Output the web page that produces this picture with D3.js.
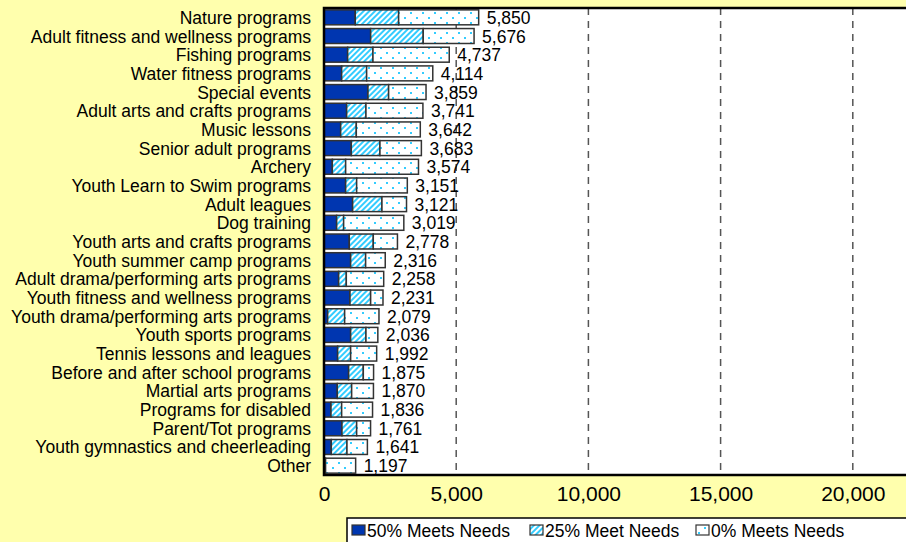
<!DOCTYPE html>
<html><head><meta charset="utf-8">
<script src="https://cdn.jsdelivr.net/npm/d3@7"></script>
<style>html,body{margin:0;padding:0;background:#ffffad;overflow:hidden}svg{display:block}</style>
</head><body>
<svg id="chart" width="906" height="542"></svg>
<script>
const categories = ["Nature programs","Adult fitness and wellness programs","Fishing programs","Water fitness programs","Special events","Adult arts and crafts programs","Music lessons","Senior adult programs","Archery","Youth Learn to Swim programs","Adult leagues","Dog training","Youth arts and crafts programs","Youth summer camp programs","Adult drama/performing arts programs","Youth fitness and wellness programs","Youth drama/performing arts programs","Youth sports programs","Tennis lessons and leagues","Before and after school programs","Martial arts programs","Programs for disabled","Parent/Tot programs","Youth gymnastics and cheerleading","Other"];
const meets50 = [1183,1765,895,668,1663,857,631,1033,315,819,1083,479,957,1008,554,983,139,1008,516,932,504,265,680,277,30];
const meets25 = [1640,1988,957,945,781,730,591,1083,504,416,1109,264,907,567,290,781,642,579,492,555,542,403,555,592,30];
const meets0  = [3027,1923,2885,2501,1415,2154,2420,1567,2755,1916,929,2276,914,741,1414,467,1298,449,984,388,824,1168,526,772,1137];
const totals  = [5850,5676,4737,4114,3859,3741,3642,3683,3574,3151,3121,3019,2778,2316,2258,2231,2079,2036,1992,1875,1870,1836,1761,1641,1197];
const tickValues = [0,5000,10000,15000,20000];
const seriesNames = ["50% Meets Needs","25% Meet Needs","0% Meets Needs"];

const svg = d3.select("#chart");
const FONT = "'Liberation Sans', Arial, sans-serif";
const defs = svg.append("defs");
const hatch = defs.append("pattern").attr("id","hatch").attr("patternUnits","userSpaceOnUse")
  .attr("width",4).attr("height",4).attr("patternTransform","rotate(45)");
hatch.append("rect").attr("width",4).attr("height",4).attr("fill","#ffffff");
hatch.append("rect").attr("width",2).attr("height",4).attr("fill","#33ccff");
const dots = defs.append("pattern").attr("id","dots").attr("patternUnits","userSpaceOnUse")
  .attr("width",12).attr("height",10);
dots.append("rect").attr("width",12).attr("height",10).attr("fill","#ffffff");
dots.append("rect").attr("x",2).attr("y",2).attr("width",2).attr("height",2).attr("fill","#33ccff");
dots.append("rect").attr("x",8).attr("y",7).attr("width",2).attr("height",2).attr("fill","#33ccff");

const fills = ["#0036b0","url(#hatch)","url(#dots)"];
const plot = {left:324, top:8, bottom:475, right:985};
const x = d3.scaleLinear().domain([0,25000]).range([plot.left, plot.right]);
const y = d3.scaleBand().domain(categories).range([plot.top, plot.bottom]).paddingInner(0.2).paddingOuter(0.1);

// plot background
svg.append("rect").attr("x",plot.left).attr("y",plot.top).attr("width",906-plot.left).attr("height",plot.bottom-plot.top).attr("fill","#ffffff");

// gridlines
svg.append("g").selectAll("line").data(tickValues.slice(1)).join("line")
  .attr("x1",d=>x(d)).attr("x2",d=>x(d)).attr("y1",plot.top).attr("y2",plot.bottom)
  .attr("stroke","#555").attr("stroke-width",1.5).attr("stroke-dasharray","7,6");

// stacked bars
const rows = categories.map((c,i)=>({cat:c, vals:[meets50[i],meets25[i],meets0[i]], total:totals[i]}));
const stack = d3.stack().keys([0,1,2]).value((d,k)=>d.vals[k]);
const series = stack(rows);
series.forEach((s,k)=>{
  svg.append("g").selectAll("rect").data(s).join("rect")
    .attr("x",d=>x(d[0])).attr("width",d=>x(d[1])-x(d[0]))
    .attr("y",d=>y(d.data.cat)).attr("height",y.bandwidth())
    .attr("fill",fills[k]).attr("stroke","#333").attr("stroke-width",1.5);
});

// value labels
svg.append("g").selectAll("text").data(rows).join("text")
  .attr("x",d=>x(d3.sum(d.vals))+8).attr("y",d=>y(d.cat)+y.bandwidth()/2+6.5)
  .attr("font-family",FONT).attr("font-size",17.5).attr("fill","#000")
  .text(d=>d3.format(",")(d.total));

// plot border (left, top, bottom)
svg.append("path").attr("d",`M${906},${plot.top}H${plot.left}V${plot.bottom}H${906}`)
  .attr("fill","none").attr("stroke","#000").attr("stroke-width",2.5);

// category labels
svg.append("g").selectAll("text").data(categories).join("text")
  .attr("x",311).attr("y",d=>y(d)+y.bandwidth()/2+6.5).attr("text-anchor","end")
  .attr("font-family",FONT).attr("font-size",17.5).attr("fill","#000").text(d=>d);

// x axis tick labels
const axis = svg.append("g").attr("transform",`translate(0,${plot.bottom})`)
  .call(d3.axisBottom(x).tickValues(tickValues).tickFormat(d3.format(",")).tickSize(0).tickPadding(11));
axis.select(".domain").remove();
axis.selectAll("text").attr("font-family",FONT).attr("font-size",21).attr("fill","#000");

// legend
const lg = svg.append("g");
lg.append("rect").attr("x",347).attr("y",518).attr("width",560).attr("height",30).attr("fill","#ffffff").attr("stroke","#000").attr("stroke-width",1.5);
const lx = [352,530,696];
seriesNames.forEach((n,k)=>{
  lg.append("rect").attr("x",lx[k]).attr("y",525).attr("width",13).attr("height",10).attr("fill",fills[k]).attr("stroke","#333").attr("stroke-width",1.2);
  lg.append("text").attr("x",lx[k]+15).attr("y",536.5).attr("font-family",FONT).attr("font-size",17.5).attr("fill","#000").text(n);
});
</script>
</body></html>
